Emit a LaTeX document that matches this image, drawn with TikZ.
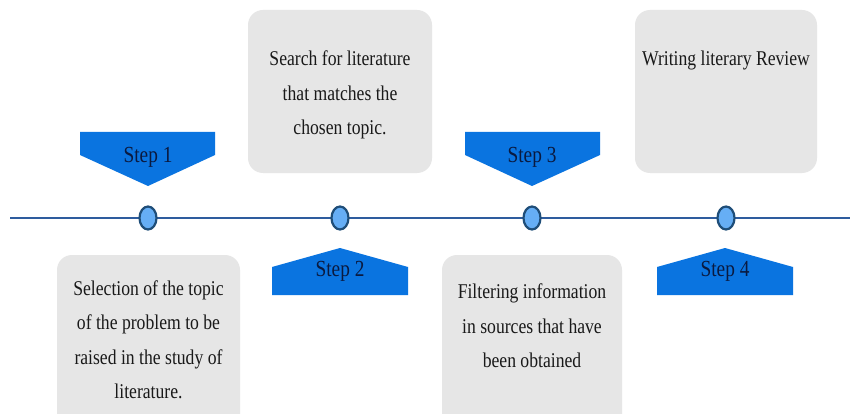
\documentclass[tikz,border=0pt]{standalone}
\usepackage{fontspec}
\setmainfont[FakeStretch=0.84]{Liberation Serif}
\usetikzlibrary{shapes.geometric}
\definecolor{linec}{HTML}{2E5C9E}
\definecolor{dotb}{HTML}{1F4E79}
\definecolor{dotf}{HTML}{66AEF5}
\definecolor{arrowf}{HTML}{0A74E0}
\definecolor{stept}{HTML}{0A1A40}
\definecolor{boxf}{HTML}{E6E6E6}
\begin{document}
\begin{tikzpicture}[x=1pt,y=-1pt,
  graybox/.style={fill=boxf, rounded corners=15pt},
  steptext/.style={text=stept, font=\fontsize{23}{26}\selectfont},
  bodytext/.style={font=\fontsize{21}{34.5}\selectfont, align=center, text=black!90},
  arrowshape/.style={fill=arrowf},
  dot/.style={ellipse, draw=dotb, line width=2.2pt, fill=dotf, minimum width=17pt, minimum height=23pt, inner sep=0pt}]
\useasboundingbox (0,0) rectangle (850,414);
\fill[white] (0,0) rectangle (850,414);

% gray boxes
\fill[graybox] (57,255) rectangle (240,430);
\fill[graybox] (248,10) rectangle (432,173);
\fill[graybox] (442,255) rectangle (622,430);
\fill[graybox] (635,10) rectangle (817,173);

\node[bodytext] (t1) at (148.5,340) {Selection of the topic\\of the problem to be\\raised in the study of\\literature.};
\node[bodytext] (t2) at (340,95) {Search for literature\\that matches the\\chosen topic.};
\node[bodytext] (t3) at (532,326) {Filtering information\\in sources that have\\been obtained};
\node[bodytext] (t4) at (726,60) {Writing literary Review};

% timeline
\draw[linec, line width=2pt] (10,218) -- (850,218);
\node[dot] (d1) at (148,218) {};
\node[dot] (d2) at (340,218) {};
\node[dot] (d3) at (532,218) {};
\node[dot] (d4) at (726,218) {};

% step arrows
\fill[arrowshape] (80,132) -- (215,132) -- (215,155) -- (148,186) -- (80,155) -- cycle;
\node[steptext] (s1) at (148,157) {Step 1};
\fill[arrowshape] (272,295) -- (408,295) -- (408,267) -- (340,248) -- (272,267) -- cycle;
\node[steptext] (s2) at (340,271) {Step 2};
\fill[arrowshape] (465,132) -- (600,132) -- (600,155) -- (532,186) -- (465,155) -- cycle;
\node[steptext] (s3) at (532,157) {Step 3};
\fill[arrowshape] (657,295) -- (793,295) -- (793,267) -- (725,248) -- (657,267) -- cycle;
\node[steptext] (s4) at (725,271) {Step 4};
\end{tikzpicture}
\end{document}
